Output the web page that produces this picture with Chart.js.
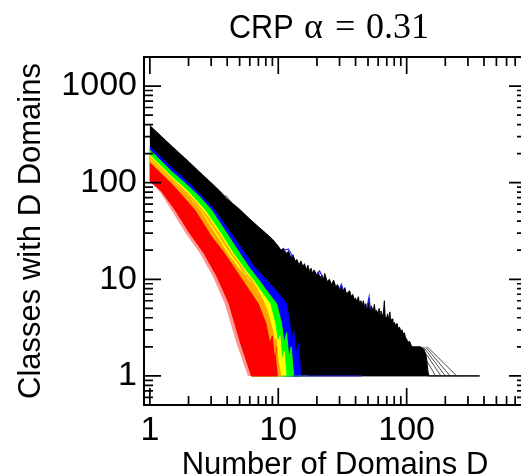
<!DOCTYPE html>
<html><head><meta charset="utf-8">
<script src="https://cdn.jsdelivr.net/npm/chart.js@4.4.0/dist/chart.umd.min.js"></script>
<style>
html,body{margin:0;padding:0;background:#fff;overflow:hidden;width:521px;height:476px;}
#wrap{position:absolute;left:0;top:0;width:530px;height:476px;}
</style></head><body>
<div id="wrap"><canvas id="c" width="530" height="476"></canvas></div>
<script>
// ---- text ----
const titleSans = "CRP";
const titleAlpha = "\u03b1";
const titleEq = "=";
const titleValue = "0.31";
const xAxisTitle = "Number of Domains D";
const yAxisTitle = "Classes with D Domains";
const xTickLabels = [1, 10, 100];
const yTickLabels = [1, 10, 100, 1000];
const xRange = [0.9, 850];
const yRange = [0.5, 2000];

// ---- envelopes of the bundles of curves, [D, count] ----
const blackTop = [[1,390],[1.5,235],[2,166],[2.5,125],[3,100],[3.5,82],[4,68],[5,53],[6,42],[7,35],[8,30],[9,26],[10,22],[10.5,20],[11,21],[11.5,18.5],[12,19.5],[12.5,17],[13,18],[13.5,15.5],[14,16],[14.5,14],[15,15.5],[15.5,13.5],[16,14.5],[16.5,12.5],[17,14],[17.5,12],[18,13],[18.5,11.5],[19,12.5],[20,11],[20.5,12],[21,10.5],[22,11],[22.5,9.8],[23,11.5],[24,9.5],[25,10],[26,8.8],[27,9.8],[28,8.4],[29,8.8],[30,7.8],[31,8.6],[32,7.6],[33,8.2],[34,7],[35,7.4],[36,7.6],[37,6.6],[38,7],[39,6.2],[40,6.4],[41,5.8],[42,6.6],[43,5.6],[44,6],[45,5.4],[46,6],[47,5.2],[48,5.6],[49,5],[50,5.3],[51,6.4],[52,4.8],[53,5.3],[55,4.7],[56,5.5],[57,4.6],[58,4.8],[60,4.4],[61,5],[62,4.3],[63,4.7],[65,4.1],[66,4.6],[67,6],[68,4.1],[70,4],[71,4.4],[72,3.8],[74,4.6],[75,3.7],[77,3.9],[78,3.4],[80,3.6],[82,3.3],[84,3.5],[86,3.1],[88,3.2],[90,2.9],[92,3],[94,2.7],[96,2.8],[98,2.5],[100,2.4],[103,2.2],[105,2.3],[108,2.1],[110,2],[118,2],[128,2],[136,1.9],[142,1.6],[148,1],[370,1]];
const blueTop = [[1,235],[1.5,140],[2,100],[2.5,74],[3.2,52],[4.2,31],[5.5,18.6],[6.5,13.5],[8,10],[10,7.2],[11.6,5.6],[12.3,3.5],[12.7,2.2],[13.2,3],[13.7,1.6],[14.3,2.2],[15,1]];
const greenTop = [[1,217],[1.5,128],[2,92],[2.5,69],[3.02,52],[3.9,31],[5,18.6],[6,13],[7.2,9.5],[8.5,7],[9.7,5.6],[10.6,3.5],[11.1,2.2],[11.6,2.8],[12.1,1.5],[12.6,2],[13.2,1]];
const yellowTop = [[1,192],[1.5,113],[2,80],[2.68,52],[3.5,31],[4.45,18.6],[5.4,13],[6.5,9.5],[7.6,7],[8.6,5.6],[9.4,3.5],[9.9,2.18],[10.3,2.6],[10.7,1.4],[11.1,1.8],[11.5,1]];
const orangeTop = [[1,170],[1.5,102],[2,72],[2.45,52],[3.2,30],[4,18.6],[5,12.5],[6.2,9],[7.6,5.6],[8.6,3.5],[9.2,2.18],[9.6,2.4],[10,1.4],[10.5,1]];
const redTop = [[1,160],[1.5,95],[2.24,52],[3,28],[3.8,18.6],[5.2,10],[6.97,5.6],[8,3.5],[8.6,2.18],[9,2.6],[9.3,1.5],[9.6,2],[9.9,1]];
const redInner = [[1,106],[1.25,80],[1.58,52],[2.05,30],[2.65,18.6],[3.35,10.6],[4.15,5.6],[5.1,2.18],[5.7,1.4],[6.2,1]];
const redOuter = [[1,102],[1.2,80],[1.475,52],[1.9,30],[2.45,18.6],[3.1,10.6],[3.83,5.6],[4.73,2.18],[5.3,1.4],[5.8,1]];

// ---- single curves standing out of the bundles ----
const orangeCurve1 = [[1,178],[1.5,106],[2,75],[2.6,50],[3.3,31],[4.2,19],[5,14],[5.5,11],[6,10.5],[7,7.5],[8,5.2],[9,3],[9.6,1.8],[10,1]];
const orangeCurve2 = [[1,185],[1.5,109],[2.2,66],[2.8,45],[3.5,29],[4.4,18],[5.5,12],[6.5,8.5],[7.5,6],[8.5,4],[9.3,2.3],[10.2,1]];
const greyBump = [[3.3,84],[3.7,72],[3.95,73],[4.3,63]];
const blueSpike1 = [[11,20],[12,20.5],[13,17]];
const blueSpike2 = [[20,11.2],[21,12.2],[22,10.6]];
const blueSpike3 = [[49,5.1],[51,6.6],[52,4.9]];
const blueSpike4 = [[30,8],[31,8.9],[32,7.8]];
const greenFloor = [[10.5,1],[17,1]];
const blueFloor = [[13,1],[45,1]];
const fan1 = [[118,2],[150,1]];
const fan2 = [[124,2],[168,1]];
const fan3 = [[130,2],[185,1]];
const fan4 = [[135,2],[200,1]];
const fan5 = [[140,2],[218,1]];
const fan6 = [[145,2],[245,1]];

const toPts = a => a.map(p => ({x: p[0], y: p[1]}));
const band = (upper, lower) => toPts(upper.concat(lower.slice().reverse()));

const layers = [];
function addBand(upper, lower, color, border) {
  layers.push({data: band(upper, lower), fill: 'shape', backgroundColor: color,
    borderColor: border || color, borderWidth: 1});
}
function addCurve(pts, color, w) {
  layers.push({data: toPts(pts), fill: false, borderColor: color, borderWidth: w || 1});
}
addBand(blackTop, redInner, '#000000');
addBand(blueTop, redInner, '#0000ff');
addBand(greenTop, redInner, '#00ff00');
addBand(yellowTop, redInner, '#ffff00');
addBand(orangeTop, redInner, '#ffa500');
addBand(redTop, redOuter, 'rgba(255,60,60,0.55)', 'rgba(255,60,60,0.0)');
addBand(redTop, redInner, '#ff0000');
addCurve(orangeCurve1, '#ff9900');
addCurve(orangeCurve2, '#ff9900');
addCurve(greyBump, 'rgba(0,0,0,0.6)');
addCurve(greenFloor, '#30e030', 1);
addCurve(blueFloor, '#2020e0', 1);
[blueSpike1, blueSpike2, blueSpike3, blueSpike4].forEach(s => addCurve(s, '#2020ff', 1.2));
[fan1, fan2, fan3, fan4, fan5, fan6].forEach(s => addCurve(s, 'rgba(0,0,0,0.7)', 1));

const N = layers.length;
const datasets = layers.map((l, i) => Object.assign({
  order: N - i, pointRadius: 0, tension: 0, showLine: true
}, l));

const sans = "'Liberation Sans', Arial, sans-serif";
const serif = "'Liberation Serif', 'Times New Roman', serif";

const frameTicks = {
  id: 'frameTicks',
  afterDraw(chart) {
    const {ctx, chartArea: a, scales: {x, y}} = chart;
    ctx.save();
    ctx.strokeStyle = '#000';
    ctx.lineWidth = 1.7;
    ctx.beginPath();
    for (let e = -1; e <= 3; e++) {
      for (let m = 1; m <= 9; m++) {
        const v = m * Math.pow(10, e);
        const len = m === 1 ? 17 : 9;
        if (v > xRange[0] && v < xRange[1]) {
          const px = x.getPixelForValue(v);
          ctx.moveTo(px, a.bottom); ctx.lineTo(px, a.bottom - len);
          ctx.moveTo(px, a.top); ctx.lineTo(px, a.top + len);
        }
        if (v > yRange[0] && v < yRange[1]) {
          const py = y.getPixelForValue(v);
          ctx.moveTo(a.left, py); ctx.lineTo(a.left + len, py);
          ctx.moveTo(a.right, py); ctx.lineTo(a.right - len, py);
        }
      }
    }
    ctx.stroke();
    ctx.lineWidth = 2;
    ctx.strokeRect(a.left, a.top, a.right - a.left, a.bottom - a.top);
    // title: "CRP" in sans, the formula in serif
    ctx.fillStyle = '#000';
    ctx.textBaseline = 'alphabetic';
    ctx.textAlign = 'left';
    ctx.save();
    ctx.translate(229, 38);
    ctx.scale(0.9, 1);
    ctx.font = "34px " + sans;
    ctx.fillText(titleSans, 0, 0);
    ctx.restore();
    ctx.font = "36px " + serif;
    ctx.fillText(titleAlpha, 304, 38);
    ctx.fillText(titleEq, 335, 38);
    ctx.fillText(titleValue, 366, 38);
    ctx.restore();
  }
};

new Chart(document.getElementById('c'), {
  type: 'line',
  data: {datasets},
  options: {
    responsive: false,
    animation: false,
    events: [],
    layout: {padding: {top: 57, right: 4, bottom: 0, left: 0}},
    plugins: {legend: {display: false}, tooltip: {enabled: false}, title: {display: false}},
    scales: {
      x: {
        type: 'logarithmic', min: xRange[0], max: xRange[1], bounds: 'data', position: 'bottom',
        grid: {display: false, drawTicks: false}, border: {display: false},
        afterBuildTicks: s => { s.ticks = xTickLabels.map(v => ({value: v})); },
        afterFit: s => { s.height = 71; },
        ticks: {autoSkip: false, maxRotation: 0, padding: 5, color: '#000',
          font: {family: sans, size: 34}, callback: v => String(v)},
        title: {display: true, text: xAxisTitle, color: '#000', padding: 0,
          font: {family: sans, size: 31, lineHeight: 0.7}}
      },
      y: {
        type: 'logarithmic', min: yRange[0], max: yRange[1], bounds: 'data', position: 'left',
        grid: {display: false, drawTicks: false}, border: {display: false},
        afterBuildTicks: s => { s.ticks = yTickLabels.map(v => ({value: v})); },
        afterFit: s => { s.width = 144; },
        ticks: {autoSkip: false, padding: 7, color: '#000',
          font: {family: sans, size: 34}, callback: v => String(v)},
        title: {display: true, text: yAxisTitle, color: '#000', padding: 0,
          font: {family: sans, size: 31, lineHeight: 2}}
      }
    }
  },
  plugins: [frameTicks]
});
</script>
</body></html>
